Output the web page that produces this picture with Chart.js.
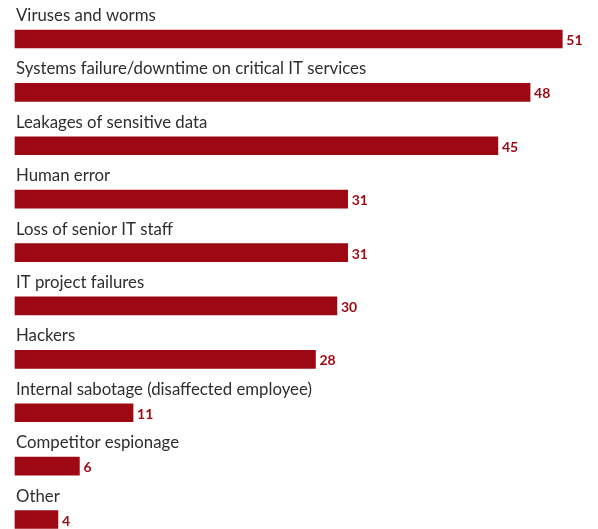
<!DOCTYPE html>
<html>
<head>
<meta charset="utf-8">
<script src="https://cdn.jsdelivr.net/npm/chart.js@4"></script>
<style>
  html, body { margin: 0; padding: 0; background: #fff; }
  #wrap { width: 598px; height: 529px; position: relative; }
</style>
</head>
<body>
<div id="wrap"><canvas id="c"></canvas></div>
<script>
// categories and values, top to bottom
const categories = [
  'Viruses and worms',
  'Systems failure/downtime on critical IT services',
  'Leakages of sensitive data',
  'Human error',
  'Loss of senior IT staff',
  'IT project failures',
  'Hackers',
  'Internal sabotage (disaffected employee)',
  'Competitor espionage',
  'Other'
];
const values = [51, 48, 45, 31, 31, 30, 28, 11, 6, 4];

const barRed = '#9e0812';

// labels above bars + value at bar end
const labelPlugin = {
  id: 'barLabels',
  afterDatasetsDraw(chart) {
    const ctx = chart.ctx;
    const meta = chart.getDatasetMeta(0);
    ctx.save();
    meta.data.forEach((bar, i) => {
      const top = bar.y - bar.height / 2;
      ctx.font = '16.8px Lato';
      ctx.fillStyle = '#2e2e2e';
      ctx.textAlign = 'left';
      ctx.textBaseline = 'alphabetic';
      ctx.fillText(categories[i], bar.base + 1, top - 9);
      ctx.font = 'bold 14px Lato';
      ctx.fillStyle = barRed;
      ctx.textBaseline = 'middle';
      ctx.fillText(String(values[i]), bar.x + 4, bar.y + 1.5);
    });
    ctx.restore();
  }
};

new Chart(document.getElementById('c'), {
  type: 'bar',
  data: {
    labels: categories,
    datasets: [{
      data: values,
      backgroundColor: barRed,
      barThickness: 18,
      clip: false
    }]
  },
  options: {
    indexAxis: 'y',
    responsive: true,
    maintainAspectRatio: false,
    animation: false,
    layout: { padding: { left: 15, right: 0, top: 39, bottom: 9.5 } },
    plugins: { legend: { display: false }, tooltip: { enabled: false } },
    scales: {
      x: { display: false, min: 0, max: 54.33 },
      y: { display: false, offset: false }
    }
  },
  plugins: [labelPlugin]
});
</script>
</body>
</html>
